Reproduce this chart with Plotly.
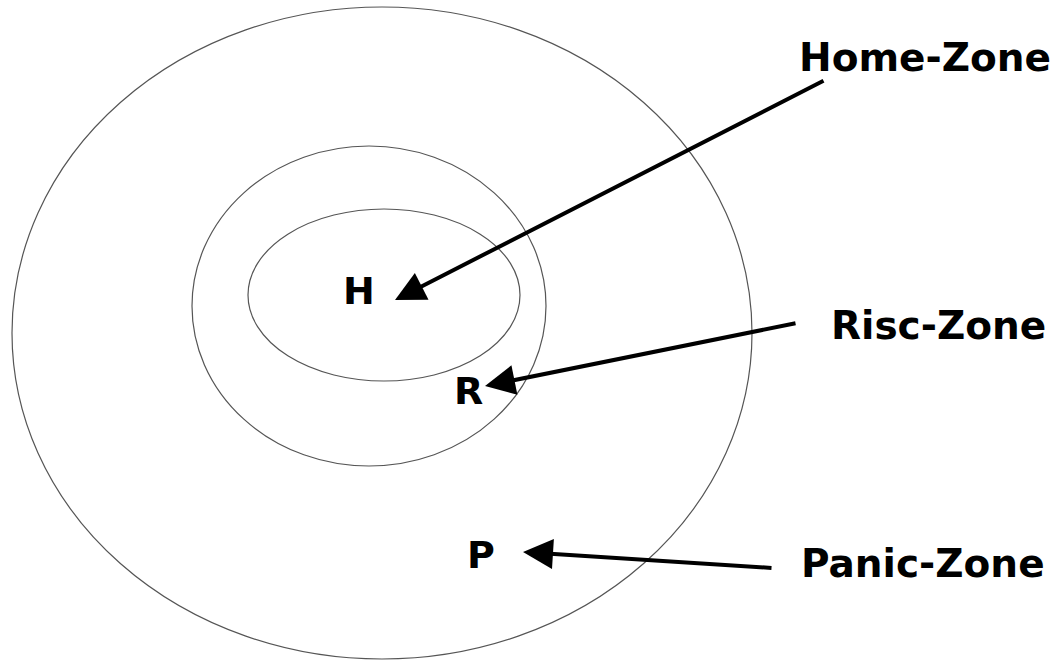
import plotly.graph_objects as go

# Ellipse zones (pixel-space coordinates on a 1058x661 canvas)
zone_names = ["Panic", "Risc", "Home"]
ellipse_cx = [382, 369, 384]
ellipse_cy = [333, 306, 295]
ellipse_rx = [370, 177, 136]
ellipse_ry = [326, 160, 86]

# Letter markers inside zones
letters = ["H", "R", "P"]
letter_x = [359, 468, 481]
letter_y = [291, 391, 555]

# Zone labels and arrows
labels = ["Home-Zone", "Risc-Zone", "Panic-Zone"]
label_x = [1053, 1048, 1047]
label_y = [57, 325, 563]
arrow_tail_x = [825, 797, 773]
arrow_tail_y = [80, 323, 568]
arrow_tip_x = [395, 485, 523]
arrow_tip_y = [300, 386, 552]

W, H = 1058, 661

fig = go.Figure()
fig.add_trace(go.Scatter(x=[0, W], y=[0, H], mode="markers",
                         marker=dict(opacity=0), hoverinfo="skip", showlegend=False))

for cx, cy, rx, ry in zip(ellipse_cx, ellipse_cy, ellipse_rx, ellipse_ry):
    fig.add_shape(type="circle", xref="x", yref="y",
                  x0=cx - rx, x1=cx + rx, y0=cy - ry, y1=cy + ry,
                  line=dict(color="#555555", width=1.2))

for t, x, y in zip(letters, letter_x, letter_y):
    fig.add_annotation(x=x, y=y, text=t, showarrow=False,
                       xanchor="center", yanchor="middle",
                       font=dict(family="DejaVu Sans", size=38, color="black", weight="bold"))

for t, x, y in zip(labels, label_x, label_y):
    fig.add_annotation(x=x, y=y, text=t, showarrow=False,
                       xanchor="right", yanchor="middle",
                       font=dict(family="DejaVu Sans", size=39, color="black", weight="bold"))

for tx, ty, hx, hy in zip(arrow_tail_x, arrow_tail_y, arrow_tip_x, arrow_tip_y):
    fig.add_annotation(x=hx, y=hy, ax=tx, ay=ty, xref="x", yref="y",
                       axref="x", ayref="y", text="", showarrow=True,
                       arrowhead=2, arrowsize=1.5, arrowwidth=4, arrowcolor="black")

fig.update_xaxes(range=[0, W], visible=False, fixedrange=True)
fig.update_yaxes(range=[H, 0], visible=False, fixedrange=True)
fig.update_layout(width=W, height=H, margin=dict(l=0, r=0, t=0, b=0),
                  paper_bgcolor="white", plot_bgcolor="white", showlegend=False)

fig.write_html("out.html", config={"displayModeBar": False})

# remove the default page margin so the figure sits at the window origin
with open("out.html", encoding="utf-8") as f:
    html = f.read()
html = html.replace("<head>", "<head><style>html,body{margin:0;padding:0;overflow:hidden;}</style>", 1)
with open("out.html", "w", encoding="utf-8") as f:
    f.write(html)
